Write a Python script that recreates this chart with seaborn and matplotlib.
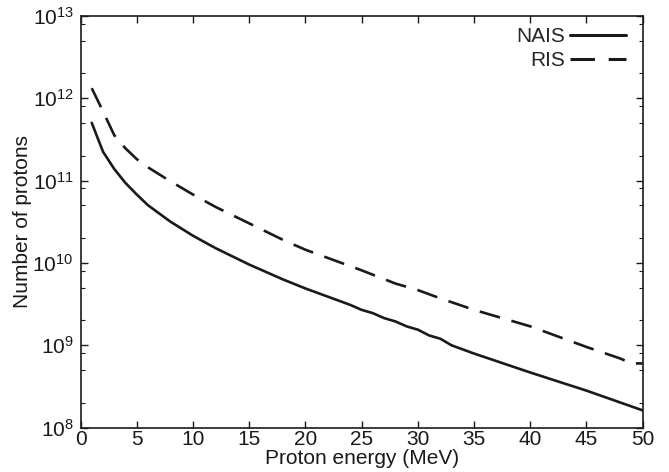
import matplotlib
matplotlib.use("Agg")
import matplotlib.pyplot as plt
import matplotlib.ticker as mticker
import numpy as np
import pandas as pd
import seaborn as sns

# Proton energy grid (MeV) and log10 of the number of protons for each source
nais_energy = [1, 2, 3, 4, 5, 6, 7, 8, 10, 12, 15, 18, 20, 22, 24, 25, 26, 27, 28,
               29, 30, 31, 32, 33, 35, 40, 45, 50]
nais_log_n = [11.70, 11.35, 11.14, 10.97, 10.83, 10.70, 10.60, 10.50, 10.33, 10.18,
              9.98, 9.80, 9.69, 9.59, 9.49, 9.43, 9.39, 9.33, 9.29, 9.23, 9.19,
              9.12, 9.08, 9.00, 8.90, 8.67, 8.45, 8.21]

ris_energy = [1, 2, 3, 4, 5, 6, 8, 10, 12, 15, 18, 20, 25, 28, 30, 32, 35, 40, 45,
              48, 49, 50]
ris_log_n = [12.12, 11.84, 11.55, 11.39, 11.26, 11.16, 10.99, 10.83, 10.68, 10.48,
             10.28, 10.16, 9.91, 9.75, 9.67, 9.57, 9.43, 9.23, 8.98, 8.84, 8.78, 8.78]

series_names = ["NAIS", "RIS"]

sns.set_style("ticks")
plt.rcParams["font.family"] = ["Liberation Sans", "DejaVu Sans"]
plt.rcParams["mathtext.fontset"] = "custom"
plt.rcParams["mathtext.rm"] = "Liberation Sans"
plt.rcParams["mathtext.it"] = "Liberation Sans:italic"

df = pd.concat([
    pd.DataFrame({"energy": nais_energy, "protons": np.power(10.0, nais_log_n),
                  "source": series_names[0]}),
    pd.DataFrame({"energy": ris_energy, "protons": np.power(10.0, ris_log_n),
                  "source": series_names[1]}),
])

fig = plt.figure(figsize=(6.69, 4.72), dpi=100)
ax = fig.add_axes([80.5 / 669, 1 - 427.7 / 472, (642.7 - 80.5) / 669, (427.7 - 15.7) / 472])

sns.lineplot(data=df, x="energy", y="protons", hue="source", style="source",
             palette={"NAIS": "#1a1a1a", "RIS": "#1a1a1a"},
             dashes={"NAIS": "", "RIS": (8, 4.5)},
             linewidth=1.9, ax=ax, legend=False)

ax.set_yscale("log")
ax.set_xlim(0, 50)
ax.set_ylim(1e8, 1e13)
ax.xaxis.set_major_locator(mticker.MultipleLocator(5))
ax.yaxis.set_major_locator(mticker.LogLocator(base=10, numticks=10))
ax.yaxis.set_minor_locator(mticker.LogLocator(base=10, subs=[2, 5, 8], numticks=10))
ax.yaxis.set_minor_formatter(mticker.NullFormatter())
ax.yaxis.set_major_formatter(mticker.LogFormatterMathtext())

for side in ["top", "right", "left", "bottom"]:
    ax.spines[side].set_visible(True)
    ax.spines[side].set_linewidth(1.2)
    ax.spines[side].set_color("#1a1a1a")

ax.tick_params(which="both", direction="in", top=True, right=True,
               colors="#1a1a1a", labelcolor="#1a1a1a")
ax.tick_params(which="major", length=5, width=1.0, labelsize=15)
ax.tick_params(which="minor", length=3, width=0.8)
ax.tick_params(axis="x", which="major", pad=2)
ax.tick_params(axis="y", which="major", pad=5)

ax.set_xlabel("Proton energy (MeV)", fontsize=15, labelpad=0, color="#1a1a1a")
ax.set_ylabel("Number of protons", fontsize=15, labelpad=0, color="#1a1a1a")

handles = [
    matplotlib.lines.Line2D([], [], color="#1a1a1a", lw=2.2),
    matplotlib.lines.Line2D([], [], color="#1a1a1a", lw=2.2, dashes=(8, 4.5)),
]
ax.legend(handles, series_names, loc="upper right", frameon=False, markerfirst=False,
          fontsize=15, handlelength=2.7, handletextpad=0.25, labelspacing=0.25,
          borderaxespad=0.3, bbox_to_anchor=(0.997, 1.008))

fig.savefig("out.png", dpi=100)
